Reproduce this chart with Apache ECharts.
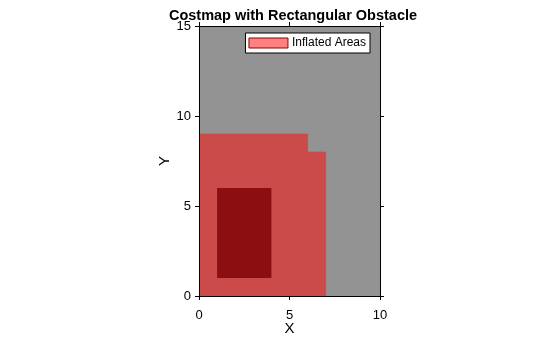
<!DOCTYPE html>
<html><head><meta charset="utf-8">
<script src="https://cdn.jsdelivr.net/npm/echarts@6/dist/echarts.min.js"></script>
<style>html,body{margin:0;padding:0;background:#fff}#c{width:560px;height:337px}</style>
</head><body><div id="c"></div>
<script>
// Rectangles as [x0, x1, y0, y1]
var freeSpace = [[0, 10, 0, 15]];
var inflatedAreas = [[0, 6, 0, 9], [6, 7, 0, 8]];
var obstacle = [[1, 4, 1, 6]];
var xTicks = [0, 5, 10];
var yTicks = [0, 5, 10, 15];

function rectRender(params, api) {
  var p0 = api.coord([api.value(0), api.value(3)]);
  var p1 = api.coord([api.value(1), api.value(2)]);
  return {
    type: 'rect',
    shape: { x: p0[0], y: p0[1], width: p1[0] - p0[0], height: p1[1] - p0[1] },
    style: api.style()
  };
}
var font = 'Liberation Sans, Arial, Helvetica, sans-serif';
var chart = echarts.init(document.getElementById('c'), null, { renderer: 'canvas' });
function xAx(pos, show) {
  return {
    type: 'value', position: pos, min: xTicks[0], max: xTicks[xTicks.length - 1], interval: xTicks[1] - xTicks[0], z: 10,
    name: show ? 'X' : '', nameLocation: 'middle', nameGap: 25, nameMoveOverlap: false,
    nameTextStyle: { fontFamily: font, fontSize: 15, color: '#000' },
    axisLine: { show: true, onZero: false, lineStyle: { color: '#000', width: 1 } },
    axisTick: { show: true, inside: false, length: 4, lineStyle: { color: '#000' } },
    axisLabel: { show: show, fontFamily: font, fontSize: 13, color: '#000', margin: 13 },
    splitLine: { show: false }
  };
}
function yAx(pos, show) {
  return {
    type: 'value', position: pos, min: yTicks[0], max: yTicks[yTicks.length - 1], interval: yTicks[1] - yTicks[0], z: 10,
    name: show ? 'Y' : '', nameLocation: 'middle', nameGap: 27, nameMoveOverlap: false,
    nameTextStyle: { fontFamily: font, fontSize: 15, color: '#000' },
    axisLine: { show: true, onZero: false, lineStyle: { color: '#000', width: 1 } },
    axisTick: { show: true, inside: false, length: 4, lineStyle: { color: '#000' } },
    axisLabel: { show: show, fontFamily: font, fontSize: 13, color: '#000', margin: 8 },
    splitLine: { show: false }
  };
}
chart.setOption({
  animation: false,
  title: {
    text: 'Costmap with Rectangular Obstacle', left: 288, top: 3, textAlign: 'center',
    textStyle: { fontFamily: font, fontSize: 14.5, fontWeight: 'bold', color: '#000' }
  },
  grid: { left: 199, right: 180, top: 26, bottom: 41, outerBoundsMode: 'none', containLabel: false },
  legend: {
    right: 190, top: 33, orient: 'vertical',
    backgroundColor: '#fff', borderColor: '#000', borderWidth: 1, borderRadius: 0,
    padding: [4, 4, 4, 3], itemWidth: 39, itemHeight: 10, itemGap: 4,
    textStyle: { fontFamily: font, fontSize: 12, color: '#000', padding: [0, 0, 0, -1] },
    data: [{ name: 'Inflated Areas', icon: 'rect',
             itemStyle: { color: '#ff8080', borderColor: '#8b0000', borderWidth: 1 } }]
  },
  xAxis: [xAx('bottom', true), xAx('top', false)],
  yAxis: [yAx('left', true), yAx('right', false)],
  series: [
    { type: 'custom', name: 'Free', renderItem: rectRender, data: freeSpace,
      itemStyle: { color: '#939393' }, encode: { x: [0, 1], y: [2, 3] }, clip: true, z: 1 },
    { type: 'custom', name: 'Inflated Areas', renderItem: rectRender, data: inflatedAreas,
      itemStyle: { color: '#cb4b4b', borderColor: '#cb4b4b', borderWidth: 0.6 }, encode: { x: [0, 1], y: [2, 3] }, clip: true, z: 2 },
    { type: 'custom', name: 'Obstacle', renderItem: rectRender, data: obstacle,
      itemStyle: { color: '#8b0e10' }, encode: { x: [0, 1], y: [2, 3] }, clip: true, z: 3 }
  ]
});
</script></body></html>
